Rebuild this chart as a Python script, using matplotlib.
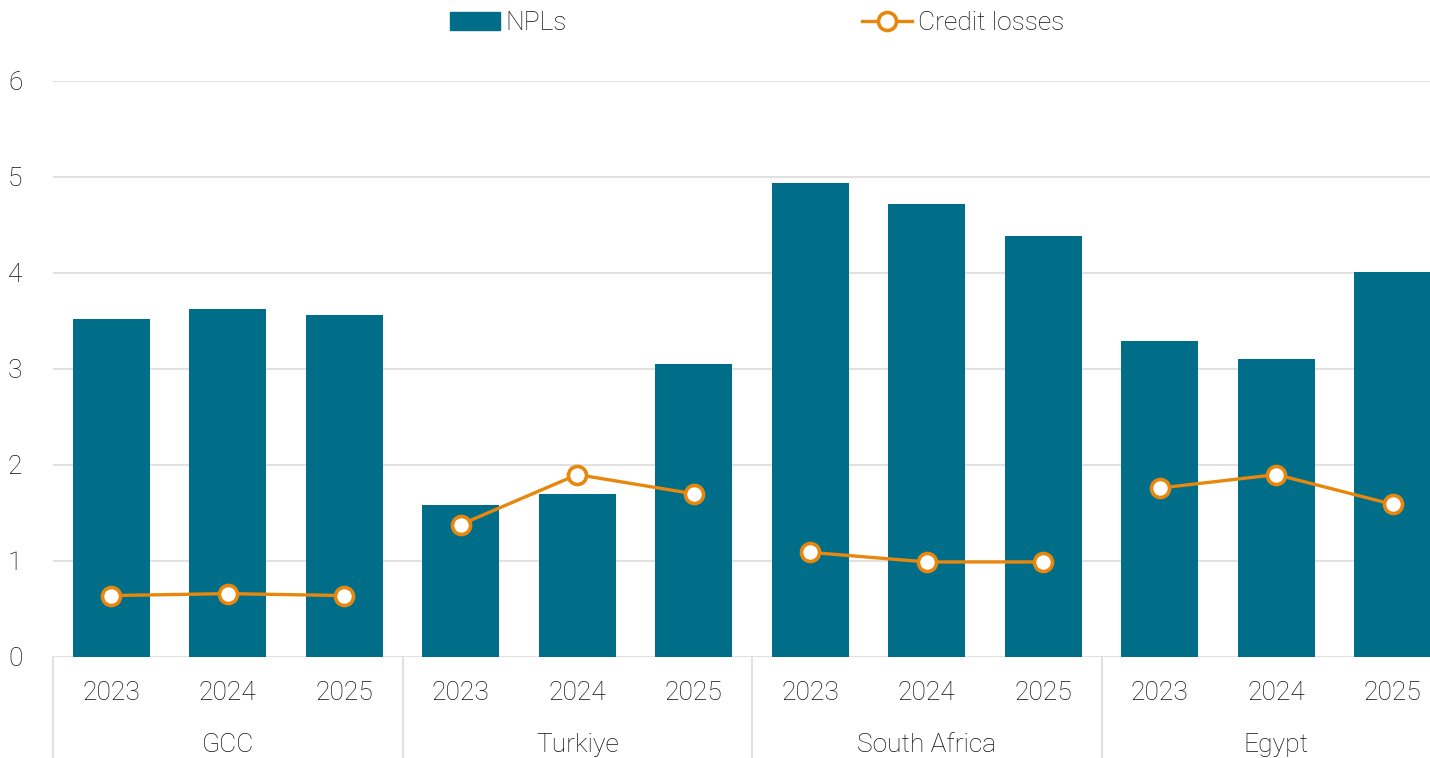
import matplotlib.pyplot as plt
from matplotlib.lines import Line2D
from matplotlib.patches import Patch

# Datos
paises = ['GCC', 'Turkiye', 'South Africa', 'Egypt']
anios = ['2023', '2024', '2025']
npls = [3.52, 3.63, 3.56, 1.58, 1.70, 3.05, 4.94, 4.72, 4.39, 3.29, 3.10, 4.01]
credit_losses = [0.64, 0.66, 0.64, 1.38, 1.90, 1.70, 1.09, 0.99, 0.99, 1.76, 1.90, 1.59]

azul = '#006E89'
naranja = '#E8870E'
gris = '#DCDCDC'
texto = '#111111'

plt.rcParams['font.family'] = ['Roboto', 'DejaVu Sans']
plt.rcParams['font.weight'] = 'light'

fig = plt.figure(figsize=(14.30, 7.58), dpi=100)
ax = fig.add_axes([53 / 1430, 1 - 657 / 758, 1398 / 1430, 576 / 758])

n = len(anios)
x = list(range(len(npls)))
ax.bar(x, npls, width=0.66, color=azul, zorder=2)

# una linea por pais (sin unir grupos)
for i in range(len(paises)):
    xs = x[i * n:(i + 1) * n]
    ys = credit_losses[i * n:(i + 1) * n]
    ax.plot(xs, ys, color=naranja, lw=2.4, marker='o', markersize=13,
            markerfacecolor='white', markeredgecolor=naranja, markeredgewidth=2.6, zorder=3)

ax.set_xlim(-0.5, len(npls) - 0.5)
ax.set_ylim(0, 6)
ax.set_yticks(range(0, 7))
ax.yaxis.grid(True, color=gris, lw=1.2, zorder=0)
ax.set_axisbelow(True)
for s in ax.spines.values():
    s.set_visible(False)
ax.tick_params(axis='y', length=0, labelsize=19, colors=texto, pad=22)
ax.tick_params(axis='x', length=0)
ax.set_xticks(x)
ax.set_xticklabels(anios * len(paises), fontsize=19, color=texto)
ax.tick_params(axis='x', pad=17)

trans = ax.get_xaxis_transform()
for i, p in enumerate(paises):
    ax.text(i * n + 1, -0.152, p, transform=trans, ha='center', va='center',
            fontsize=19, color=texto)
for i in range(len(paises) + 1):
    ax.plot([i * n - 0.5, i * n - 0.5], [0, -0.2], transform=trans, color=gris,
            lw=1.2, clip_on=False)

handles = [Patch(color=azul, label='NPLs'),
           Line2D([0], [0], color=naranja, lw=2.4, marker='o', markersize=13,
                  markerfacecolor='white', markeredgecolor=naranja, markeredgewidth=2.6,
                  label='Credit losses')]
fig.legend(handles=handles, loc='center', bbox_to_anchor=(757 / 1430, 1 - 23 / 758),
           ncol=2, frameon=False, fontsize=19, columnspacing=11.2, handlelength=1.9,
           handletextpad=0.2, labelcolor=texto)

plt.savefig('out.png', dpi=100)
plt.close()
